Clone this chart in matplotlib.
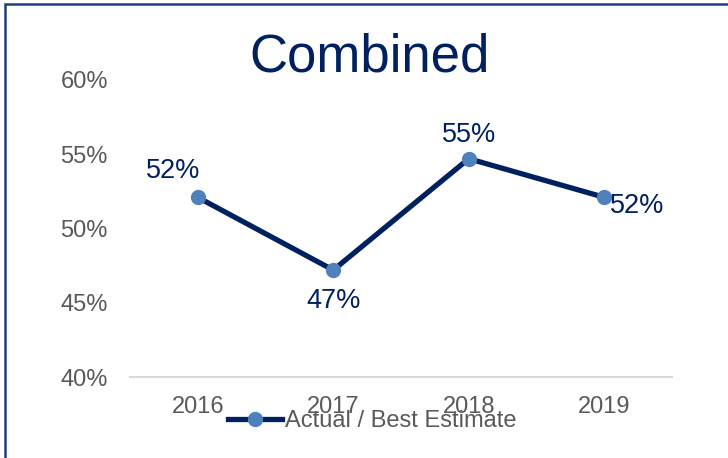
import matplotlib.pyplot as plt
from matplotlib.patches import Rectangle

plt.rcParams['font.family'] = ['Liberation Sans', 'DejaVu Sans']

years = ['2016', '2017', '2018', '2019']
values = [52.1, 47.2, 54.7, 52.1]
labels = ['52%', '47%', '55%', '52%']
yticks = [40, 45, 50, 55, 60]

navy = '#002060'
gray = '#595959'

fig = plt.figure(figsize=(7.28, 4.58), dpi=100, facecolor='white')
ax = fig.add_axes([130/728, 1-377/458, 542/728, 297/458])

x = range(len(years))
ax.plot(x, values, color=navy, lw=3.8, marker='o', ms=10,
        mfc='#4F81BD', mec='#4F81BD', label='Actual / Best Estimate', zorder=3)

# data labels, offsets in points
offsets = [(-18, 19), (0, -22), (0, 17), (24, -6)]
for i, (v, lab) in enumerate(zip(values, labels)):
    ax.annotate(lab, (i, v), xytext=offsets[i], textcoords='offset points',
                ha='center', va='center', fontsize=19.5, color=navy)

ax.set_xlim(-0.5, 3.5)
ax.set_ylim(40, 60)
ax.set_xticks(list(x))
ax.set_xticklabels(years)
ax.set_yticks(yticks)
ax.set_yticklabels([f'{t}%' for t in yticks])
ax.tick_params(axis='both', length=0, labelsize=17, labelcolor=gray)
ax.tick_params(axis='x', pad=14)
ax.tick_params(axis='y', pad=16)
for s in ['top', 'right', 'left']:
    ax.spines[s].set_visible(False)
ax.spines['bottom'].set_color('#D9D9D9')
ax.spines['bottom'].set_linewidth(1.5)

fig.text(370/728, 1-57/458, 'Combined', ha='center', va='center',
         fontsize=38, color=navy)

fig.legend(loc='center', bbox_to_anchor=(372/728, 1-421/458), frameon=False,
           fontsize=17, labelcolor=gray, handlelength=2.3, handletextpad=0.1)

# outer border (runs past the right/bottom edges)
fig.patches.append(Rectangle((4.5/728, -0.1), 1.2, 1.1 - 4.5/458,
                             transform=fig.transFigure, fill=False,
                             edgecolor='#1F3F7A', lw=1.8))

plt.savefig('out.png', dpi=100, facecolor='white')
